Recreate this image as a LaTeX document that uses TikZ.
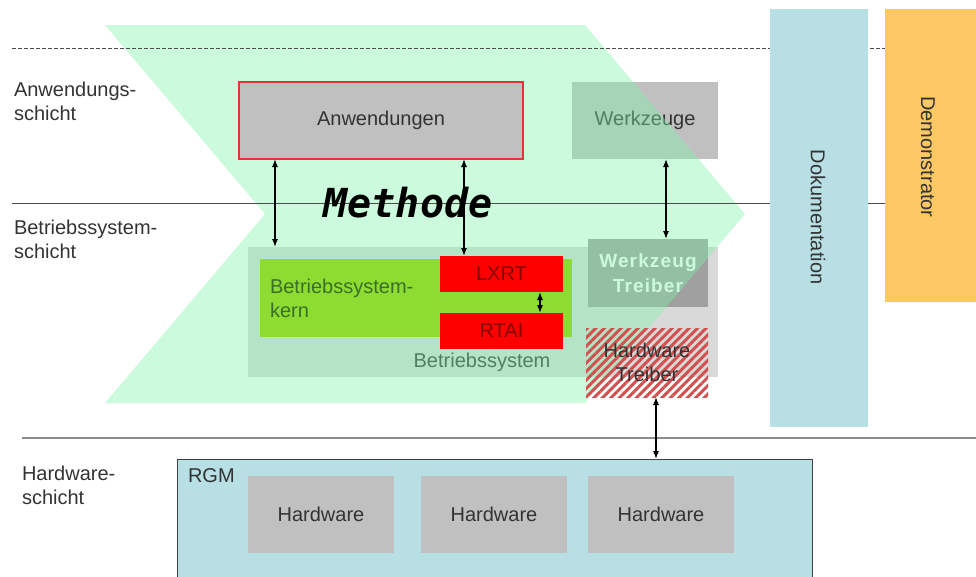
\documentclass[tikz,border=0pt]{standalone}
\usepackage{fontspec}
\setmainfont{Liberation Sans}
\newfontfamily\methfont{DejaVu Sans Mono}
\newfontfamily\drvfont{Liberation Sans}[LetterSpace=6]
\usetikzlibrary{arrows.meta,patterns.meta}

\definecolor{chev}{RGB}{128,242,167}
\definecolor{boxgray}{RGB}{192,192,192}
\definecolor{osgray}{RGB}{217,217,217}
\definecolor{drvgray}{RGB}{160,160,160}
\definecolor{kerngreen}{RGB}{140,220,50}
\definecolor{kerntext}{RGB}{60,110,40}
\definecolor{rtred}{RGB}{255,0,0}
\definecolor{rttext}{RGB}{130,0,0}
\definecolor{hatchred}{RGB}{210,80,80}
\definecolor{docblue}{RGB}{184,223,227}
\definecolor{demoorange}{RGB}{252,200,100}
\definecolor{txt}{RGB}{51,51,51}
\definecolor{anwred}{RGB}{230,50,50}

\tikzset{
  every node/.style={inner sep=0pt, outer sep=0pt},
  lbl/.style={font=\fontsize{20}{24}\selectfont, text=txt},
  boxbase/.style={lbl, align=center},
  graybox/.style={boxbase, fill=boxgray},
  layerlabel/.style={lbl, align=left, anchor=north west},
  sepline/.style={line width=1pt, draw=black!70},
  link/.style={line width=1.2pt, {Latex[length=8pt,width=6pt]}-{Latex[length=8pt,width=6pt]}},
}

\begin{document}
\begin{tikzpicture}[x=1pt, y=-1pt]
\useasboundingbox (0,0) rectangle (976,576);
\clip (0,0) rectangle (976,576);

% boxes lying underneath the method chevron
\node[graybox, minimum width=146pt, minimum height=77pt] (wz) at (645,120.5) {Werkzeuge};
\node[boxbase, fill=osgray, minimum width=470pt, minimum height=130pt] (bs) at (483,312) {};
\node[lbl, anchor=base, text=txt] (bslabel) at (482,367) {Betriebssystem};
\node[boxbase, fill=drvgray, text=white, font=\drvfont\fontsize{19}{25}\selectfont\bfseries,
      minimum width=120pt, minimum height=68pt] (wt) at (648,273) {Werkzeug\\Treiber};

% method chevron
\fill[chev, fill opacity=0.4] (105,25) -- (585,25) -- (745,214) -- (585,403)
  -- (105,403) -- (265,214) -- cycle;

% layer separators
\draw[sepline, dash pattern=on 4pt off 2pt] (12,48) -- (976,48);
\draw[sepline] (12,203) -- (976,203);
\draw[line width=1.5pt, draw=black!45] (22,438) -- (976,438);

% vertical bars
\node[boxbase, fill=docblue, minimum width=98pt, minimum height=418pt] (doc) at (819,218) {};
\node[lbl, rotate=-90] (doctext) at (818,217) {Dokumentation};
\node[boxbase, fill=demoorange, minimum width=91pt, minimum height=293pt] (demo) at (930.5,155.5) {};
\node[lbl, rotate=-90] (demotext) at (928,157) {Demonstrator};

% application layer
\node[graybox, draw=anwred, line width=1.5pt, minimum width=284pt, minimum height=77pt] (anw) at (381,120.5) {Anwendungen};

% operating system layer
\node[fill=kerngreen, minimum width=312pt, minimum height=78pt] (kern) at (416,298) {};
\node[layerlabel, text=kerntext] (kerntext) at (270,279) {Betriebssystem-\\kern};
\node[boxbase, fill=rtred, text=rttext, minimum width=123pt, minimum height=36pt] (lxrt) at (501.5,274) {LXRT};
\node[boxbase, fill=rtred, text=rttext, minimum width=123pt, minimum height=36pt] (rtai) at (501.5,331) {RTAI};
\node[boxbase, fill=white, minimum width=122pt, minimum height=69pt,
      pattern={Lines[angle=45,distance=6pt,line width=3pt]}, pattern color=hatchred] (htbox) at (647,362.5) {};
\node[boxbase] (ht) at (647,362.5) {Hardware\\Treiber};

% hardware layer
\node[boxbase, fill=docblue, draw=black!75, line width=1pt, minimum width=635pt, minimum height=131pt] (rgm) at (494.5,524.5) {};
\node[layerlabel] (rgmlabel) at (188,469) {RGM};
\node[graybox, minimum width=146pt, minimum height=77pt] (hw1) at (321,514.5) {Hardware};
\node[graybox, minimum width=146pt, minimum height=77pt] (hw2) at (494,514.5) {Hardware};
\node[graybox, minimum width=146pt, minimum height=77pt] (hw3) at (661,514.5) {Hardware};

% layer names
\node[layerlabel] (l1) at (14,82) {Anwendungs-\\schicht};
\node[layerlabel] (l2) at (14,220) {Betriebssystem-\\schicht};
\node[layerlabel] (l3) at (22,466) {Hardware-\\schicht};

% method title
\node[anchor=base, font=\methfont\bfseries\itshape\fontsize{40}{40}\selectfont] (meth) at (408,217) {Methode};

% connections
\draw[link] ([xshift=36pt]anw.south west) -- ([xshift=27pt]bs.north west);
\draw[link] ([xshift=225pt]anw.south west) -- ([xshift=24pt]lxrt.north west);
\draw[link] ([xshift=21pt]wz.south) -- ([xshift=18pt]wt.north);
\draw[link] ([xshift=38.5pt]lxrt.south) -- ([xshift=38.5pt]rtai.north);
\draw[link] ([xshift=9pt]htbox.south) -- ([xshift=9pt]htbox.south |- rgm.north);
\end{tikzpicture}
\end{document}
